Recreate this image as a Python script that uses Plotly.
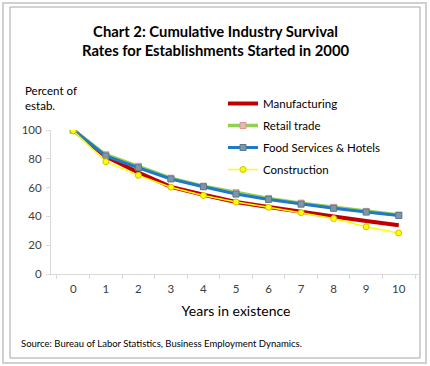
import plotly.graph_objects as go

years = ["0", "1", "2", "3", "4", "5", "6", "7", "8", "9", "10"]
manufacturing = [100, 81.5, 70.5, 60.5, 55, 50, 46.5, 43, 40, 36.8, 33.8]
retail_trade = [100, 82.8, 74.8, 66.5, 61, 56.5, 52.5, 49.2, 46.3, 43.5, 41]
food_hotels = [100, 82, 73.8, 66, 60.6, 55.5, 51.8, 48.5, 45.6, 43, 40.6]
construction = [99.5, 78, 68.5, 60.3, 54.5, 50, 46.3, 42.6, 38.5, 32.8, 28.5]

FONT = "Lato, Carlito, 'Liberation Sans', sans-serif"

# plot area in pixels
L, R, T, B = 51, 421, 130, 274
W, H = 430, 366


def px(x):
    return (x - L) / (R - L)


def py(y):
    return (B - y) / (B - T)


fig = go.Figure()
fig.add_trace(go.Scatter(
    x=years, y=manufacturing, name="Manufacturing", mode="lines",
    line=dict(color="#C00000", width=4), legendgroup="a"))
fig.add_trace(go.Scatter(
    x=years, y=retail_trade, name="Retail trade", mode="lines+markers",
    line=dict(color="#92D050", width=3.5),
    marker=dict(symbol="square", size=6, color="#E6B9B8",
                line=dict(color="#D99694", width=1)), legendgroup="b"))
fig.add_trace(go.Scatter(
    x=years, y=food_hotels, name="Food Services & Hotels", mode="lines+markers",
    line=dict(color="#1F78C8", width=3),
    marker=dict(symbol="square", size=6, color="#7F96A8",
                line=dict(color="#5A7A8A", width=1)), legendgroup="c"))
fig.add_trace(go.Scatter(
    x=years, y=construction, name="Construction", mode="lines+markers",
    line=dict(color="#FFFF00", width=1.5),
    marker=dict(symbol="circle", size=6, color="#FFFF00",
                line=dict(color="#D4C000", width=1)), legendgroup="d"))

shapes = [
    dict(type="rect", xref="paper", yref="paper",
         x0=px(3), x1=px(426), y0=py(363), y1=py(3),
         line=dict(color="#D0D0D0", width=2), layer="below"),
    dict(type="rect", xref="paper", yref="paper",
         x0=px(10), x1=px(420), y0=py(358), y1=py(7),
         line=dict(color="#A6A6A6", width=1), layer="below"),
]

annotations = [
    dict(text="<b>Chart 2: Cumulative Industry Survival<br>Rates for Establishments Started in 2000</b>",
         xref="paper", yref="paper", x=px(216), y=py(40), xanchor="center", yanchor="middle",
         showarrow=False, font=dict(family=FONT, size=14.8, color="#000000"), align="center"),
    dict(text="Percent of<br>estab.", xref="paper", yref="paper", x=px(23), y=py(98),
         xanchor="left", yanchor="middle", showarrow=False, align="left",
         font=dict(family=FONT, size=11.5, color="#000000")),
    dict(text="Source: Bureau of Labor Statistics, Business Employment Dynamics.",
         xref="paper", yref="paper", x=px(19), y=py(343), xanchor="left", yanchor="middle",
         showarrow=False, font=dict(family=FONT, size=9.5, color="#000000")),
]

fig.update_layout(
    width=W, height=H,
    margin=dict(l=L, r=W - R, t=T, b=H - B, pad=0),
    paper_bgcolor="white", plot_bgcolor="white",
    font=dict(family=FONT, color="#000000"),
    showlegend=True,
    legend=dict(x=px(223), y=py(89), xanchor="left", yanchor="top",
                font=dict(family=FONT, size=11.5, color="#000000"),
                bgcolor="rgba(0,0,0,0)", tracegroupgap=3, itemwidth=30),
    shapes=shapes, annotations=annotations,
    xaxis=dict(type="category", tickson="boundaries", ticks="outside", ticklen=4,
               tickcolor="#D9D9D9", showline=True, linecolor="#D9D9D9", showgrid=False,
               ticklabelstandoff=4,
               tickfont=dict(family=FONT, size=11.5, color="#404040"),
               title=dict(text="Years in existence", font=dict(family=FONT, size=14, color="#000000"),
                          standoff=12)),
    yaxis=dict(range=[0, 100], tickvals=[0, 20, 40, 60, 80, 100], ticks="outside", ticklen=4,
               tickcolor="#D9D9D9", showline=True, linecolor="#D9D9D9", showgrid=False,
               ticklabelstandoff=2,
               zeroline=False, tickfont=dict(family=FONT, size=11.5, color="#404040")),
)

fig.write_html("out.html", config={"displayModeBar": False},
               post_script="document.body.style.margin='0px';")
